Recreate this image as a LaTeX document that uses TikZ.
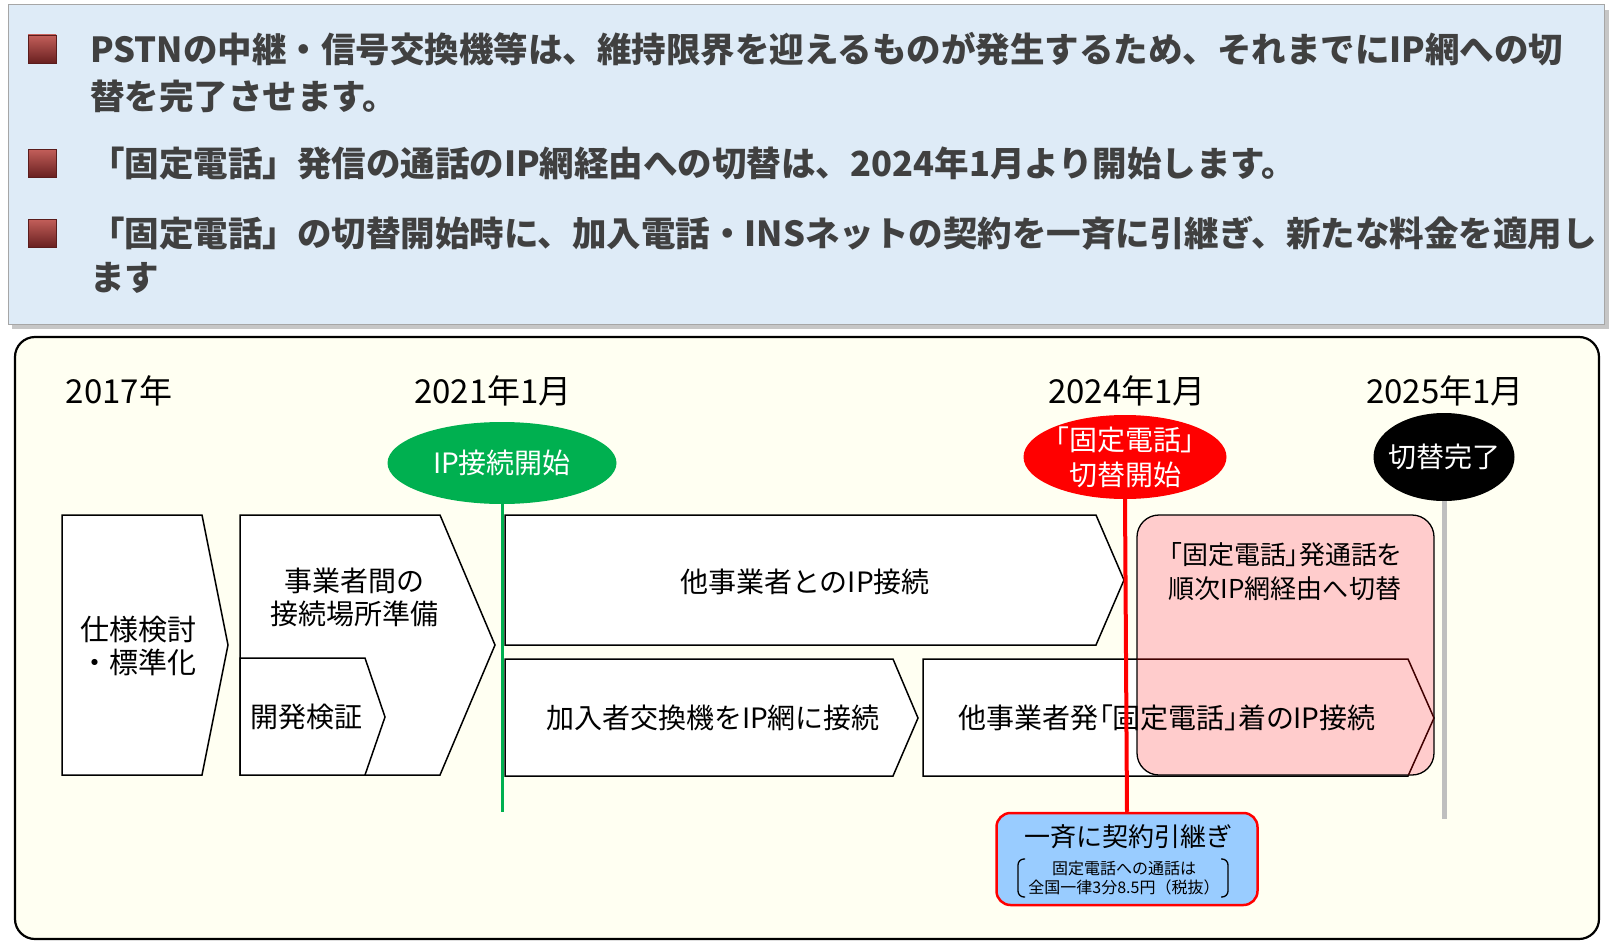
\documentclass[tikz,border=0pt]{standalone}
\usepackage{fontspec}
\setmainfont{Noto Sans CJK JP}
\newfontfamily\jpprop{Noto Sans CJK JP}[RawFeature=+palt]
\usepackage{tikz}
\usetikzlibrary{positioning,shapes.geometric}

\definecolor{boxblue}{HTML}{DEEBF7}
\definecolor{panelbg}{HTML}{FFFFF2}
\definecolor{msgreen}{HTML}{00B050}
\definecolor{pinkbox}{HTML}{FFCCCC}
\definecolor{bluebox}{HTML}{99CCFF}
\definecolor{txtgray}{HTML}{404040}

\begin{document}
\begin{tikzpicture}[x=1pt,y=-1pt,
  phase/.style={draw=black,fill=white,line width=1.5pt},
  lbl/.style={inner sep=0pt,align=center,font=\fontsize{28}{33}\selectfont},
  yearlbl/.style={inner sep=0pt,font=\fontsize{33}{36}\selectfont},
  milestone/.style={ellipse,inner sep=0pt},
  mstext/.style={inner sep=0pt,align=center,text=white,font=\fontsize{28}{35}\selectfont},
  bulletsq/.style={minimum size=28pt,inner sep=0pt,draw={rgb,255:red,90;green,28;blue,28},
    top color={rgb,255:red,195;green,95;blue,90},bottom color={rgb,255:red,105;green,32;blue,32}},
  bullettext/.style={anchor=west,inner sep=0pt,text=txtgray,font=\bfseries\fontsize{34.5}{38}\selectfont}]
  \useasboundingbox (0,0) rectangle (1612,942);
  % upper panel
  \fill[gray!45] (12,10) rectangle (1609,329);
  \draw[fill=boxblue,draw=gray!70,line width=1pt] (8,5) rectangle (1604,324);
  \foreach \y/\n in {49/1,163/2,233/3}
    \node[bulletsq] (sq\n) at (42,\y) {};
  \node[bullettext] (t1) at (90,49) {PSTNの中継・信号交換機等は、維持限界を迎えるものが発生するため、それまでにIP網への切};
  \node[bullettext] (t1b) at (90,96) {替を完了させます。};
  \node[bullettext] (t2) at (90,163) {「固定電話」発信の通話のIP網経由への切替は、2024年1月より開始します。};
  \node[bullettext] (t3) at (90,233) {「固定電話」の切替開始時に、加入電話・INSネットの契約を一斉に引継ぎ、新たな料金を適用し};
  \node[bullettext] (t3b) at (90,278) {ます};
  % lower panel
  \draw[fill=panelbg,line width=2.2pt,rounded corners=20pt] (15,337) rectangle (1599,939);
  \node[yearlbl] (y17) at (119,391) {2017年};
  \node[yearlbl] (y21) at (493,391) {2021年1月};
  \node[yearlbl] (y24) at (1127,391) {2024年1月};
  \node[yearlbl] (y25) at (1445,391) {2025年1月};
  % phases
  \draw[phase] (62,515) -- (202,515) -- (228,645) -- (202,775) -- (62,775) -- cycle;
  \node[lbl,font=\fontsize{29}{33}\selectfont] (spec) at (138,646) {仕様検討\\・標準化};
  \draw[phase] (240,515) -- (440,515) -- (495,645) -- (440,775) -- (240,775) -- cycle;
  \node[lbl] (site) at (354,597) {事業者間の\\接続場所準備};
  \draw[phase] (240,658) -- (365,658) -- (385,717) -- (365,775) -- (240,775) -- cycle;
  \node[lbl,anchor=west] (devtest) at (250,717) {開発検証};
  \draw[phase] (505,515) -- (1096,515) -- (1124,580) -- (1096,645) -- (505,645) -- cycle;
  \node[lbl] (ipother) at (805,582) {他事業者とのIP接続};
  \draw[phase] (505,659) -- (893,659) -- (918,718) -- (893,776) -- (505,776) -- cycle;
  \node[lbl] (subsw) at (713,718) {加入者交換機をIP網に接続};
  \draw[phase] (923,659) -- (1408,659) -- (1434,718) -- (1408,776) -- (923,776) -- cycle;
  \draw[fill=pinkbox,line width=1.3pt,rounded corners=22pt] (1137,515) rectangle (1434,775);
  \begin{scope}
    \clip[rounded corners=22pt] (1137,515) rectangle (1434,775);
    \draw[red!25!black,line width=1.5pt] (923,659) -- (1408,659) -- (1434,718) -- (1408,776) -- (923,776);
  \end{scope}
  \node[lbl,font=\jpprop\fontsize{28}{33}\selectfont] (fixedin) at (1167,718) {他事業者発「固定電話」着のIP接続};
  \node[lbl,font=\jpprop\fontsize{26}{34}\selectfont] (fixedout) at (1285,572) {「固定電話」発通話を\\順次IP網経由へ切替};
  % milestones
  \node[milestone,fill=msgreen,minimum width=229pt,minimum height=82pt,
    label={[mstext]center:IP接続開始}] (ipstart) at (502,463) {};
  \node[milestone,fill=red,minimum width=203pt,minimum height=84pt,
    label={[mstext,font=\jpprop\fontsize{28}{35}\selectfont]center:{「固定電話」\\切替開始}}] (fixstart) at (1125,457) {};
  \node[milestone,fill=black,minimum width=141pt,minimum height=88pt,
    label={[mstext]center:切替完了}] (done) at (1444,457) {};
  \node[draw=red,fill=bluebox,line width=2.5pt,rounded corners=14pt,minimum width=261pt,minimum height=92pt] (handover) at (1127,859) {};
  \node[inner sep=0pt,font=\fontsize{26}{30}\selectfont] (hotitle) at (1128,837) {一斉に契約引継ぎ};
  \node[inner sep=0pt,align=center,font=\fontsize{16}{19}\selectfont] (honote) at (1124,878) {固定電話への通話は\\全国一律3分8.5円（税抜）};
  \draw[line width=1.3pt,rounded corners=6pt] (1025,859) -- (1018,859) -- (1018,897) -- (1025,897);
  \draw[line width=1.3pt,rounded corners=6pt] (1221,859) -- (1228,859) -- (1228,897) -- (1221,897);
  % time lines
  \coordinate (gend) at (502,812);
  \coordinate (kend) at (1444,819);
  \draw[msgreen,line width=3pt] (ipstart.south) -- (gend);
  \draw[red,line width=4pt] (fixstart.south) -- (handover.north);
  \draw[gray!50,line width=5pt] (done.south) -- (kend);
\end{tikzpicture}
\end{document}
